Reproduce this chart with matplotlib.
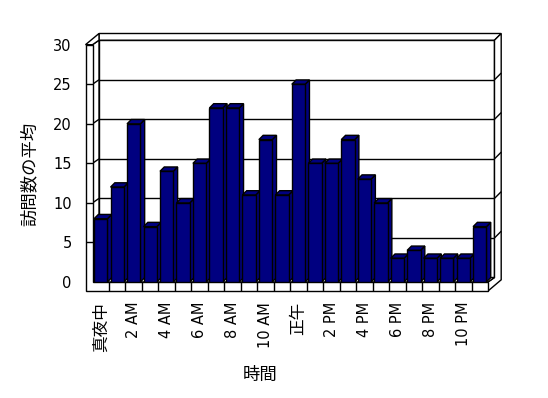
import numpy as np
import matplotlib.pyplot as plt
from matplotlib.patches import Polygon
from matplotlib.transforms import IdentityTransform

plt.rcParams['font.family'] = ['DejaVu Sans', 'Noto Sans CJK JP']

# data
hours = list(range(24))
visits = [8, 12, 20, 7, 14, 10, 15, 22, 22, 11, 18, 11,
          25, 15, 15, 18, 13, 10, 3, 4, 3, 3, 3, 7]
tick_labels = ['真夜中', '2 AM', '4 AM', '6 AM', '8 AM', '10 AM',
               '正午', '2 PM', '4 PM', '6 PM', '8 PM', '10 PM']
y_ticks = [0, 5, 10, 15, 20, 25, 30]

W, H = 548, 398
fig = plt.figure(figsize=(W / 100, H / 100), dpi=100)
left, right, bottom, top = 92.5, 488, 282, 44.7
ax = fig.add_axes([left / W, 1 - bottom / H, (right - left) / W, (bottom - top) / H])
ax.set_xlim(-0.5, 23.5)
ax.set_ylim(0, 30)
for s in ax.spines.values():
    s.set_visible(False)
ax.patch.set_visible(False)

navy = '#000080'
D = np.array([6.5, 4.5])    # front plane -> back wall
T = np.array([6.7, 6.7])    # wall thickness
BD = np.array([4.3, 4.3])   # bar depth
WALL = 7                    # left wall thickness
FLOOR = 9                   # floor thickness
bw = 0.81


def p(x, y):
    return ax.transData.transform((x, y))


def face(pts, z, fc='white'):
    ax.add_patch(Polygon(pts, closed=True, fc=fc, ec='black', lw=1,
                         transform=IdentityTransform(), clip_on=False,
                         zorder=z, joinstyle='miter'))


def line(a, b, z):
    ax.plot([a[0], b[0]], [a[1], b[1]], color='black', lw=1,
            transform=IdentityTransform(), clip_on=False, zorder=z,
            solid_capstyle='butt')


x0, x1 = -0.5, 23.5
dw = np.array([WALL, 0])
df = np.array([0, FLOOR])

# back wall + gridlines
face([p(x0, 0) + D, p(x1, 0) + D, p(x1, 30) + D, p(x0, 30) + D], 1)
for v in y_ticks[1:-1]:
    line(p(x0, v) + D, p(x1, v) + D, 1.1)
    line(p(x1, v) + D, p(x1, v) + D + T, 1.3)
face([p(x0, 30) + D, p(x1, 30) + D, p(x1, 30) + D + T, p(x0, 30) + D + [0, T[1]]], 1.2)
face([p(x1, 30) + D, p(x1, 30) + D + T, p(x1, 0) - df + D + T,
      p(x1, 0) - df, p(x1, 0), p(x1, 0) + D], 1.2)

# floor
face([p(x0, 0), p(x1, 0), p(x1, 0) + D, p(x0, 0) + D], 1.4)

# left wall inner side
face([p(x0, 0), p(x0, 30), p(x0, 30) + D, p(x0, 0) + D], 1.5)
for v in y_ticks[1:-1]:
    line(p(x0, v), p(x0, v) + D, 1.6)

# left wall front + floor front strip
face([p(x0, 30) - dw, p(x0, 30), p(x0, 0), p(x1, 0), p(x1, 0) - df, p(x0, 0) - dw - df], 2)
face([p(x0, 30) - dw, p(x0, 30), p(x0, 30) + D, p(x0, 30) + D + [0, T[1]]], 2)
for v in y_ticks[1:-1]:
    line(p(x0, v) - dw, p(x0, v), 2.1)
for i in hours[:-1]:
    line(p(i + 0.5, 0), p(i + 0.5, 0) - df, 2.1)

# bars
for i, v in zip(hours, visits):
    z = 3 + i * 0.01
    fl, fr, br = p(i - bw / 2, v), p(i + bw / 2, v), p(i + bw / 2, 0)
    face([br, fr, fr + BD, br + BD], z, navy)
    face([fl, fr, fr + BD, fl + BD], z, navy)
    ax.bar(i, v, width=bw, color=navy, edgecolor='black', lw=1, zorder=z + 0.005)

ax.set_yticks(y_ticks)
ax.set_xticks(hours[::2])
ax.set_xticklabels(tick_labels, rotation=90, va='top', ha='center')
ax.tick_params(axis='y', length=0, pad=15, labelsize=10.5)
ax.tick_params(axis='x', length=0, pad=14.4, labelsize=10.5)
for lbl in ax.get_xticklabels():
    if not lbl.get_text()[0].isdigit():
        lbl.set_fontsize(12)

ax.set_ylabel('訪問数の平均', fontsize=12.5, va='center', ha='center')
ax.yaxis.set_label_coords((30 - left) / (right - left), (bottom - 174) / (bottom - top))
ax.set_xlabel('時間', fontsize=12.5, va='center', ha='center')
ax.xaxis.set_label_coords((260 - left) / (right - left), (bottom - 375) / (bottom - top))

fig.savefig('out.png', dpi=100)
